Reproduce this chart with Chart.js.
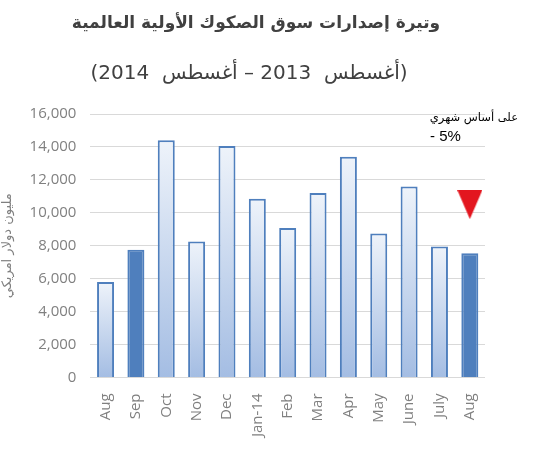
<!DOCTYPE html>
<html>
<head>
<meta charset="utf-8">
<script src="https://cdn.jsdelivr.net/npm/chart.js@4.4.1/dist/chart.umd.min.js"></script>
<style>
  html, body { margin: 0; padding: 0; background: #fff; }
  #wrap { width: 538px; height: 450px; }
</style>
</head>
<body>
<div id="wrap"><canvas id="sukukChart" width="538" height="450"></canvas></div>
<script>
var months = ['Aug', 'Sep', 'Oct', 'Nov', 'Dec', 'Jan-14', 'Feb', 'Mar', 'Apr', 'May', 'June', 'July', 'Aug'];
var issuance = [5800, 7750, 14400, 8260, 14050, 10850, 9070, 11200, 13400, 8750, 11600, 7960, 7550];
var highlighted = [false, true, false, false, false, false, false, false, false, false, false, false, true];
var markerValues = [null, null, null, null, null, null, null, null, null, null, null, null, 10500];
var yTicks = [0, 2000, 4000, 6000, 8000, 10000, 12000, 14000, 16000];

var titleLine1 = 'وتيرة إصدارات سوق الصكوك الأولية العالمية';
var titleLine2 = '(أغسطس  2013 – أغسطس  2014)';
var yTitle = 'مليون دولار امريكي';
var noteLine1 = 'على أساس شهري';
var noteLine2 = '- 5%';

var arabicFont = '"DejaVu Sans", sans-serif';
var tickFont = '"Open Sans", "Noto Sans", sans-serif';

// down arrow marker drawn once to an offscreen canvas
var tri = document.createElement('canvas');
tri.width = 25;
tri.height = 29;
var tctx = tri.getContext('2d');
tctx.fillStyle = '#e3161f';
tctx.beginPath();
tctx.moveTo(0, 0);
tctx.lineTo(25, 0);
tctx.lineTo(12.5, 29);
tctx.closePath();
tctx.fill();

function barFill(context) {
    var idx = context.dataIndex;
    if (highlighted[idx]) return '#4f7fbd';
    var chart = context.chart;
    if (!chart.chartArea || !chart.scales.y) return '#c5d6ee';
    var y = chart.scales.y;
    var top = y.getPixelForValue(context.raw);
    var bottom = y.getPixelForValue(0);
    var g = chart.ctx.createLinearGradient(0, top, 0, bottom);
    g.addColorStop(0, '#eef3fa');
    g.addColorStop(1, '#a4bde3');
    return g;
}

var textPlugin = {
    id: 'textPlugin',
    afterDraw: function(chart) {
        var ctx = chart.ctx;
        ctx.save();
        ctx.direction = 'rtl';
        ctx.textAlign = 'center';
        ctx.textBaseline = 'middle';
        ctx.fillStyle = '#404040';
        ctx.font = 'bold 17px ' + arabicFont;
        ctx.fillText(titleLine1, 256, 24);
        ctx.font = '20px ' + arabicFont;
        ctx.fillText(titleLine2, 249, 74);

        ctx.fillStyle = '#000';
        ctx.textAlign = 'right';
        ctx.font = '11.5px ' + arabicFont;
        ctx.fillText(noteLine1, 518, 118);
        ctx.direction = 'ltr';
        ctx.textAlign = 'left';
        ctx.font = '15px "Liberation Sans", Arial, sans-serif';
        ctx.fillText(noteLine2, 430, 137);
        ctx.restore();
    }
};

var ctx = document.getElementById('sukukChart').getContext('2d');
var chart = new Chart(ctx, {
    type: 'bar',
    data: {
        labels: months,
        datasets: [{
            label: 'issuance',
            data: issuance,
            backgroundColor: barFill,
            borderColor: '#4f7fbd',
            borderWidth: 2,
            borderSkipped: 'bottom',
            categoryPercentage: 1,
            barPercentage: 0.56,
            order: 2
        }, {
            type: 'line',
            label: 'change',
            data: markerValues,
            showLine: false,
            pointStyle: tri,
            pointRadius: 13,
            pointHoverRadius: 13,
            order: 1
        }]
    },
    options: {
        responsive: false,
        animation: false,
        layout: { padding: { top: 114, right: 53, bottom: 5, left: 0 } },
        plugins: {
            legend: { display: false },
            tooltip: { enabled: false },
            title: { display: false }
        },
        scales: {
            x: {
                grid: { display: false },
                border: { display: false },
                ticks: {
                    color: '#808080',
                    font: { family: tickFont, size: 15 },
                    minRotation: 90,
                    maxRotation: 90,
                    padding: 8,
                    autoSkip: false
                }
            },
            y: {
                min: 0,
                max: 16000,
                afterBuildTicks: function(scale) {
                    scale.ticks = yTicks.map(function(v) { return { value: v }; });
                },
                grid: { color: '#d9d9d9', lineWidth: 1, drawTicks: false },
                border: { display: false },
                ticks: {
                    color: '#808080',
                    font: { family: tickFont, size: 15 },
                    padding: 14,
                    callback: function(v) { return v.toLocaleString('en-US'); }
                },
                title: {
                    display: true,
                    text: yTitle,
                    color: '#808080',
                    font: { family: arabicFont, size: 13 },
                    padding: { top: 0, bottom: 0 }
                }
            }
        }
    },
    plugins: [textPlugin]
});
</script>
</body>
</html>
